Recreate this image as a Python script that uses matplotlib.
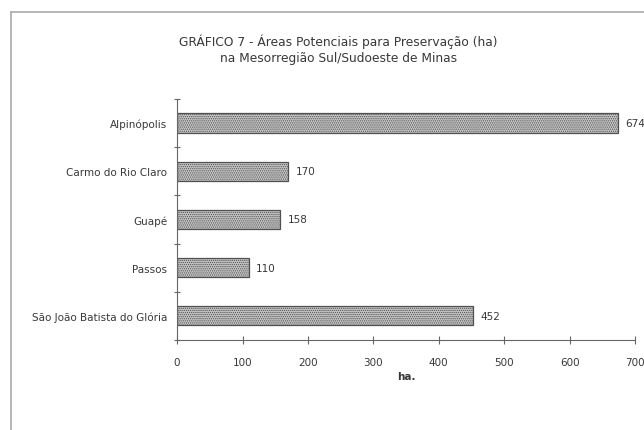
import matplotlib.pyplot as plt
from matplotlib.lines import Line2D

plt.rcParams['font.family'] = ['DejaVu Sans']
plt.rcParams['hatch.color'] = '#707070'
plt.rcParams['hatch.linewidth'] = 0.6

municipios = ['Alpinópolis', 'Carmo do Rio Claro', 'Guapé', 'Passos',
              'São João Batista do Glória']
areas = [674, 170, 158, 110, 452]
xticks = [0, 100, 200, 300, 400, 500, 600, 700]

fig = plt.figure(figsize=(6.44, 4.31), dpi=100)
ax = fig.add_axes([0.275, 0.209, 0.711, 0.559])

pos = list(range(len(municipios)))[::-1]
bars = ax.barh(pos, areas, height=0.4, color='#c4c4c4', edgecolor='#505050',
               linewidth=0.9, hatch='........')

for b, v in zip(bars, areas):
    ax.text(v + 11, b.get_y() + b.get_height() / 2, str(v), va='center',
            ha='left', fontsize=7.5, color='#383838')

ax.set_xlim(0, 700)
ax.set_ylim(-0.5, 4.5)
ax.set_xticks(xticks)
ax.set_xticklabels([str(t) for t in xticks], fontsize=7.5, color='#383838')
ax.set_yticks(pos)
ax.set_yticklabels(municipios, fontsize=7.5, color='#383838')
ax.set_yticks([p + 0.5 for p in range(-1, 5)], minor=True)
ax.tick_params(axis='y', which='major', length=0, pad=7)
ax.tick_params(axis='y', which='minor', direction='inout', length=5,
               color='#666666', width=0.8)
ax.tick_params(axis='x', direction='inout', length=6, color='#666666',
               width=0.8, pad=9)
for s in ['top', 'right']:
    ax.spines[s].set_visible(False)
for s in ['left', 'bottom']:
    ax.spines[s].set_color('#666666')
    ax.spines[s].set_linewidth(0.8)

ax.set_xlabel('ha.', fontsize=7.5, fontweight='bold', color='#383838',
              labelpad=3)

fig.text(0.525, 0.902, 'GRÁFICO 7 - Áreas Potenciais para Preservação (ha)',
         ha='center', va='center', fontsize=8.8, color='#383838')
fig.text(0.525, 0.865, 'na Mesorregião Sul/Sudoeste de Minas',
         ha='center', va='center', fontsize=8.8, color='#383838')

# moldura do gráfico
fig.add_artist(Line2D([0.017, 1.0], [0.97, 0.97], transform=fig.transFigure,
                      color='#aaaaaa', linewidth=1.2))
fig.add_artist(Line2D([0.017, 0.017], [0.97, 0.0], transform=fig.transFigure,
                      color='#aaaaaa', linewidth=1.2))

fig.savefig('out.png', dpi=100)
